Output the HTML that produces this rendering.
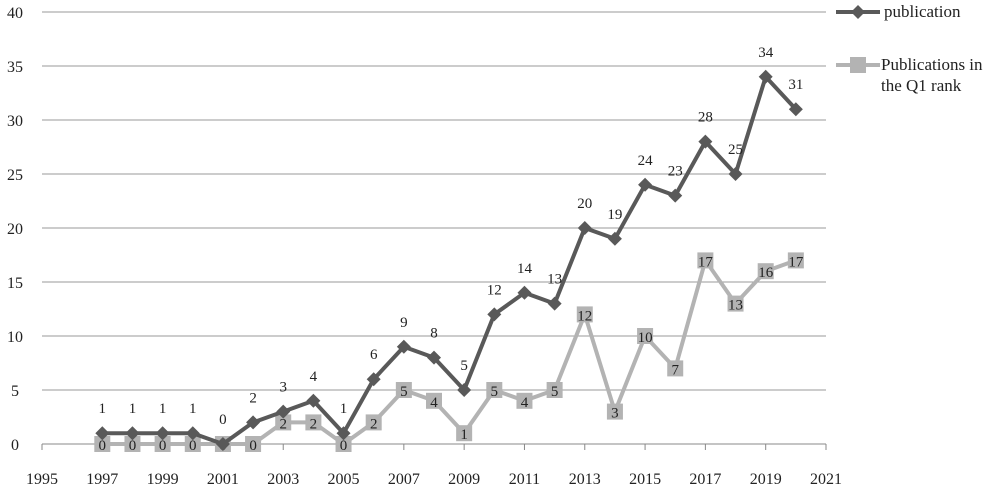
<!DOCTYPE html>
<html><head><meta charset="utf-8"><style>
body{margin:0;background:#fff;width:1000px;height:498px;overflow:hidden}
svg{font-family:"Liberation Serif",serif}
</style></head><body>
<svg id="c" width="1000" height="498"></svg>
<script>
const years=[1997,1998,1999,2000,2001,2002,2003,2004,2005,2006,2007,2008,2009,2010,2011,2012,2013,2014,2015,2016,2017,2018,2019,2020];
const pubs=[1,1,1,1,0,2,3,4,1,6,9,8,5,12,14,13,20,19,24,23,28,25,34,31];
const q1=[0,0,0,0,0,0,2,2,0,2,5,4,1,5,4,5,12,3,10,7,17,13,16,17];
const yTicks=[0,5,10,15,20,25,30,35,40];
const xTicks=[1995,1997,1999,2001,2003,2005,2007,2009,2011,2013,2015,2017,2019,2021];
const NS="http://www.w3.org/2000/svg";
const svg=document.getElementById('c');
const X=v=>42+(v-1995)*(826-42)/26;
const Y=v=>444-v*(444-12)/40;
function mk(t,a,p){const e=document.createElementNS(NS,t);for(const k in a)e.setAttribute(k,a[k]);(p||svg).appendChild(e);return e;}
yTicks.forEach(v=>{
 const g=mk('line',{x1:42,x2:826,y1:Y(v),y2:Y(v),stroke:v===0?'#888':'#999','stroke-width':1});
 
 
 const t=mk('text',{x:15,y:Y(v)+6,'text-anchor':'middle','font-size':16,fill:'#222'});t.textContent=v;
 
 
});
xTicks.forEach(v=>{
 const l=mk('line',{x1:X(v),x2:X(v),y1:444,y2:450,stroke:'#888'});
 
 
 const t=mk('text',{x:X(v),y:484,'text-anchor':'middle','font-size':16,fill:'#222'});t.textContent=v;
 
 
});
function series(vals,color,shape,name,labelAbove){
 const pl=mk('polyline',{points:vals.map((v,i)=>X(years[i])+','+Y(v)).join(' '),fill:'none',stroke:color,'stroke-width':4,'stroke-linejoin':'round'});
 
 
 vals.forEach((v,i)=>{
  const x=X(years[i]),y=Y(v);let m;
  if(shape==='d')m=mk('polygon',{points:`${x},${y-7} ${x+7},${y} ${x},${y+7} ${x-7},${y}`,fill:color});
  else m=mk('rect',{x:x-8,y:y-8,width:16,height:16,fill:color});
  
  
  const t=mk('text',{x:x,y:labelAbove?y-20:y+6,'text-anchor':'middle','font-size':15,fill:'#222'});t.textContent=v;
  
  
 });
}
series(q1,'#b3b3b3','s','q1',false);
series(pubs,'#595959','d','publication',true);
const lg=mk('g',{});


mk('line',{x1:836,x2:880,y1:12,y2:12,stroke:'#595959','stroke-width':4},lg);
mk('polygon',{points:'858,5 865,12 858,19 851,12',fill:'#595959'},lg);
let t=mk('text',{x:884,y:17,'font-size':17,fill:'#222'},lg);t.textContent='publication';
mk('line',{x1:836,x2:880,y1:65,y2:65,stroke:'#b3b3b3','stroke-width':4},lg);
mk('rect',{x:850,y:57,width:16,height:16,fill:'#b3b3b3'},lg);
t=mk('text',{x:881,y:70,'font-size':17,fill:'#222'},lg);t.textContent='Publications in';
t=mk('text',{x:881,y:91,'font-size':17,fill:'#222'},lg);t.textContent='the Q1 rank';
</script>
</body></html>
